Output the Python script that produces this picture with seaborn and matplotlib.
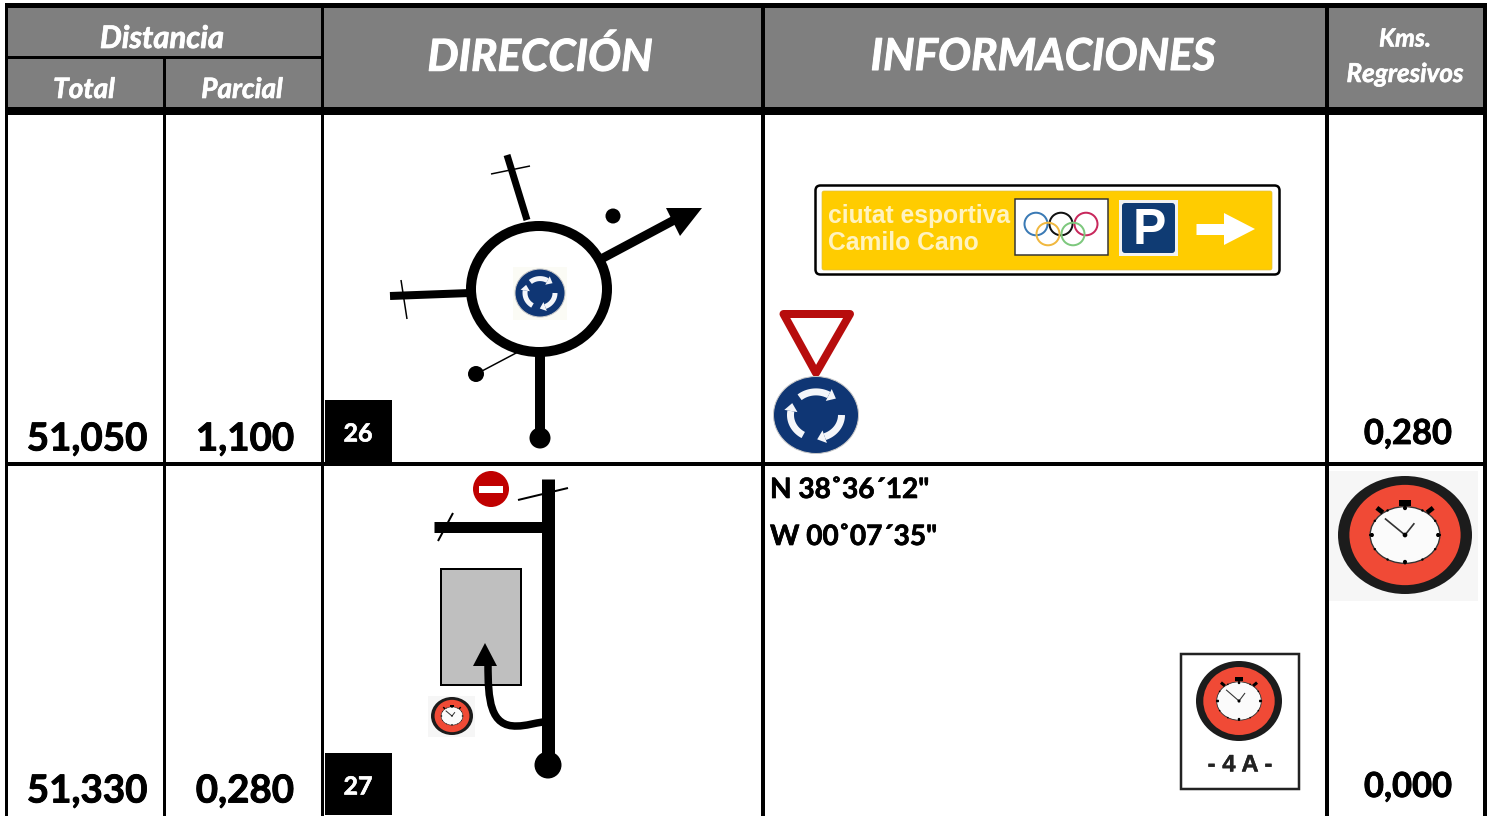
import numpy as np
import matplotlib
matplotlib.use("Agg")
import matplotlib.pyplot as plt
import matplotlib.patheffects as pe
from matplotlib.patches import Rectangle, Ellipse, Polygon, FancyBboxPatch, PathPatch
from matplotlib.path import Path
import seaborn as sns

# ---- table content ----
header_main = ["DIRECCIÓN", "INFORMACIONES"]
header_dist = ["Distancia", "Total", "Parcial"]
header_kms = ["Kms.", "Regresivos"]
totals = ["51,050", "51,330"]
partials = ["1,100", "0,280"]
regressive = ["0,280", "0,000"]
steps = ["26", "27"]
coords = ['N 38˚36´12"', 'W 00˚07´35"']
sign_text = ["ciutat esportiva", "Camilo Cano"]
sign_caption = "- 4 A -"

sns.set_theme(style="white")
FONT = ["Lato", "DejaVu Sans"]
plt.rcParams["font.family"] = FONT

W, H = 1494, 816
fig = plt.figure(figsize=(W / 100, H / 100), dpi=100, facecolor="white")
ax = fig.add_axes([0, 0, 1, 1])
ax.set_xlim(0, W)
ax.set_ylim(H, 0)
ax.axis("off")

PX = 0.72
GREY = "#7f7f7f"
NAVY = "#0f3674"
RED = "#c00000"


def rect(x0, y0, x1, y1, fc="black", ec="none", lw=0, z=1):
    ax.add_patch(Rectangle((x0, y0), x1 - x0, y1 - y0, fc=fc, ec=ec, lw=lw * PX, zorder=z))


def line(p0, p1, w, z=3, color="black", cap="butt"):
    ax.plot([p0[0], p1[0]], [p0[1], p1[1]], color=color, lw=w * PX, solid_capstyle=cap, zorder=z)


def disc(x, y, rx, ry=None, fc="black", ec="none", lw=0, z=3):
    ax.add_patch(Ellipse((x, y), 2 * rx, 2 * (ry or rx), fc=fc, ec=ec, lw=lw * PX, zorder=z))


def txt(x, y, s, px, color="black", style="normal", weight="bold", ha="center", family=None, z=6, heavy=0.017):
    t = ax.text(x, y, s, fontsize=px * PX, color=color, style=style, weight=weight, ha=ha,
                va="center", family=family or FONT, zorder=z)
    if heavy:
        t.set_path_effects([pe.withStroke(linewidth=px * heavy, foreground=color)])
    return t


def clock(cx, cy, rx, ry, bg=None):
    if bg:
        rect(*bg, fc="#f6f6f6", z=2)
    disc(cx, cy, rx, ry, fc="#1c1c1c", z=3)
    disc(cx, cy, rx * 0.83, ry * 0.85, fc="#f04a36", z=3.1)
    dx, dy = rx * 0.52, ry * 0.48
    disc(cx, cy, dx, dy, fc="#fbfbfb", ec="#333333", lw=max(0.6, rx / 50), z=3.2)
    for a in np.deg2rad(np.arange(0, 360, 30)):
        disc(cx + dx * np.cos(a), cy + dy * np.sin(a), rx * 0.018, ry * 0.02, fc="black", z=3.3)
    for a in np.deg2rad(np.arange(0, 360, 90)):
        disc(cx + dx * 0.95 * np.cos(a), cy + dy * 0.95 * np.sin(a), rx * 0.03, ry * 0.035, fc="black", z=3.3)
    rect(cx - rx * .09, cy - ry * .6, cx + rx * .09, cy - ry * .5, fc="black", z=3.4)
    line((cx - rx * .42, cy - ry * .46), (cx - rx * .33, cy - ry * .38), rx * .07, z=3.4)
    line((cx + rx * .42, cy - ry * .46), (cx + rx * .33, cy - ry * .38), rx * .07, z=3.4)
    line((cx, cy), (cx - rx * .3, cy - ry * .28), max(1, rx * .025), color="#333333", z=3.5)
    line((cx, cy), (cx + rx * .14, cy - ry * .2), max(1, rx * .025), color="#333333", z=3.5)
    disc(cx, cy, rx * .035, ry * .04, fc="black", z=3.6)


def roundabout_sign(cx, cy, rx, ry, lw):
    disc(cx, cy, rx, ry, fc=NAVY, ec="#c8c8c8", lw=1, z=3)
    for a0 in (-130, 0, 120):
        a = np.deg2rad(np.linspace(a0, a0 + 70, 30))
        xs = cx + rx * .6 * np.cos(a)
        ys = cy + ry * .6 * np.sin(a)
        ax.plot(xs, ys, color="#f4f6fa", lw=lw * PX, solid_capstyle="butt", zorder=3.2)
        tx, ty = xs[-1] - xs[-2], ys[-1] - ys[-2]
        n = np.hypot(tx, ty)
        tx, ty = tx / n, ty / n
        s = lw * 0.95
        ax.add_patch(Polygon([(xs[-1] - ty * s, ys[-1] + tx * s), (xs[-1] + ty * s, ys[-1] - tx * s),
                              (xs[-1] + tx * s * 1.2, ys[-1] + ty * s * 1.2)], fc="#f4f6fa", ec="none", zorder=3.3))


# ---- header and grid ----
rect(5, 3, 1487, 115, fc="black", z=1)
for x0, x1, y0, y1 in [(8, 321, 8, 56), (8, 163, 59, 107), (166, 321, 59, 107),
                       (324, 761, 8, 107), (765, 1325, 8, 107), (1329, 1483, 8, 107)]:
    rect(x0, y0, x1, y1, fc=GREY, z=1.5)
for x0, x1 in [(5, 8), (163, 166), (321, 324), (761, 765), (1325, 1329), (1483, 1487)]:
    rect(x0, 107, x1, H, z=5)
rect(5, 462, 1487, 466, z=5)

txt(162, 39, header_dist[0], 31, "white", "italic")
txt(84, 90, header_dist[1], 28, "white", "italic")
txt(242, 90, header_dist[2], 28, "white", "italic")
txt(540, 57, header_main[0], 44, "white", "italic")
txt(1043, 57, header_main[1], 44, "white", "italic")
txt(1405, 39, header_kms[0], 25, "white", "italic")
txt(1405, 74, header_kms[1], 26, "white", "italic")

# ---- values ----
for (y_big, y_reg, y_box0, y_box1, t, p, r, s) in zip((439, 791), (434, 787), (400, 753), (462, 815),
                                                       totals, partials, regressive, steps):
    txt(87, y_big, t, 38.5)
    txt(245, y_big, p, 38.5)
    txt(1408, y_reg, r, 34.5)
    rect(325, y_box0, 392, y_box1, z=5)
    txt(358, (y_box0 + y_box1) / 2 + 3, s, 25, "white")

txt(770, 490, coords[0], 28, ha="left")
txt(770, 537, coords[1], 28, ha="left")

# ---- roundabout diagram ----
line((507, 155), (527, 220), 7)
line((491, 174), (530, 166), 1.5)
line((390, 296), (470, 293), 8)
line((401, 280), (407, 319), 1.5)
line((540, 352), (540, 437), 10)
disc(540, 438, 10.5)
line((482, 371), (518, 352), 1.5)
disc(476, 374, 8)
disc(613, 216, 7.5)
line((603, 258), (678, 218), 9)
ax.add_patch(Polygon([(666, 208), (702, 208), (680, 236)], fc="black", ec="none", zorder=3))
disc(539, 289, 68, 63, fc="none", ec="black", lw=10, z=3)
rect(513, 267, 567, 320, fc="#fbfbf5", z=2)
roundabout_sign(540, 293, 25, 24, 5)

# ---- direction diagram 2 ----
rect(441, 569, 521, 685, fc="#bfbfbf", ec="black", lw=2, z=2)
line((548, 479), (548, 765), 13)
disc(548, 765, 13.5)
line((434, 527), (542, 527), 11)
line((438, 541), (453, 513), 2)
line((518, 500), (568, 488), 2)
disc(491, 489, 18, fc=RED)
rect(479, 486, 503, 493, fc="white", z=3.2)
ax.add_patch(PathPatch(Path([(488, 664), (488, 700), (490, 727), (517, 726), (526, 726), (535, 723), (543, 722)],
                            [Path.MOVETO, Path.CURVE4, Path.CURVE4, Path.CURVE4, Path.CURVE4, Path.CURVE4, Path.CURVE4]),
                       fc="none", ec="black", lw=7.5 * PX, zorder=3))
ax.add_patch(Polygon([(485, 643), (473, 666), (497, 666)], fc="black", ec="none", zorder=3))
clock(452, 716, 21, 19, bg=(428, 696, 475, 737))

# ---- information signs ----
ax.add_patch(FancyBboxPatch((815.5, 185.5), 464, 89, boxstyle="round,pad=0,rounding_size=5",
                            fc="white", ec="black", lw=2.5 * PX, zorder=2))
ax.add_patch(FancyBboxPatch((822, 191), 450, 79, boxstyle="round,pad=0,rounding_size=2",
                            fc="#ffcc00", ec="#e0c040", lw=0.5, zorder=2.1))
lib = ["Liberation Sans", "DejaVu Sans"]
txt(828, 216, sign_text[0], 24.6, "#fff3c0", ha="left", family=lib, heavy=0)
txt(828, 243, sign_text[1], 24.6, "#fff3c0", ha="left", family=lib, heavy=0)
rect(1015, 199, 1108, 255, fc="white", ec="#333333", lw=1.5, z=2.3)
ring_r = 11.5
for cx, cy, c in [(1036, 224, "#3a7ab5"), (1061, 224, "#111111"), (1086, 224, "#c8285c"),
                  (1048, 234, "#f0b840"), (1073, 234, "#7dc87d")]:
    disc(cx, cy, ring_r, ring_r * .98, fc="none", ec=c, lw=2, z=2.5)
rect(1119, 200, 1178, 256, fc="#f2f2f2", z=2.3)
ax.add_patch(FancyBboxPatch((1122, 203), 53, 50, boxstyle="round,pad=0,rounding_size=3",
                            fc="#0f3b73", ec="none", zorder=2.4))
txt(1149, 231, "P", 50, "white", family=lib, heavy=0)
line((1196, 229), (1228, 229), 11, color="white", z=2.5)
ax.add_patch(Polygon([(1224, 213), (1255, 229), (1224, 245)], fc="white", ec="none", zorder=2.5))

ax.add_patch(Polygon([(783.5, 314), (850, 314), (816, 373)], fc="white", ec="#b70d0d", lw=8 * PX,
                     joinstyle="round", zorder=3))
roundabout_sign(816, 415, 42.5, 38.5, 7)

# ---- stopwatch panels ----
clock(1405, 535, 67, 59, bg=(1329, 471, 1478, 601))
rect(1181, 654, 1299, 789, fc="white", ec="#222222", lw=2.5, z=2)
clock(1239, 701, 43, 40)
txt(1240, 765, sign_caption, 24, "#222222", family=lib, heavy=0.01, z=4)

fig.savefig("out.png", dpi=100, facecolor="white")
